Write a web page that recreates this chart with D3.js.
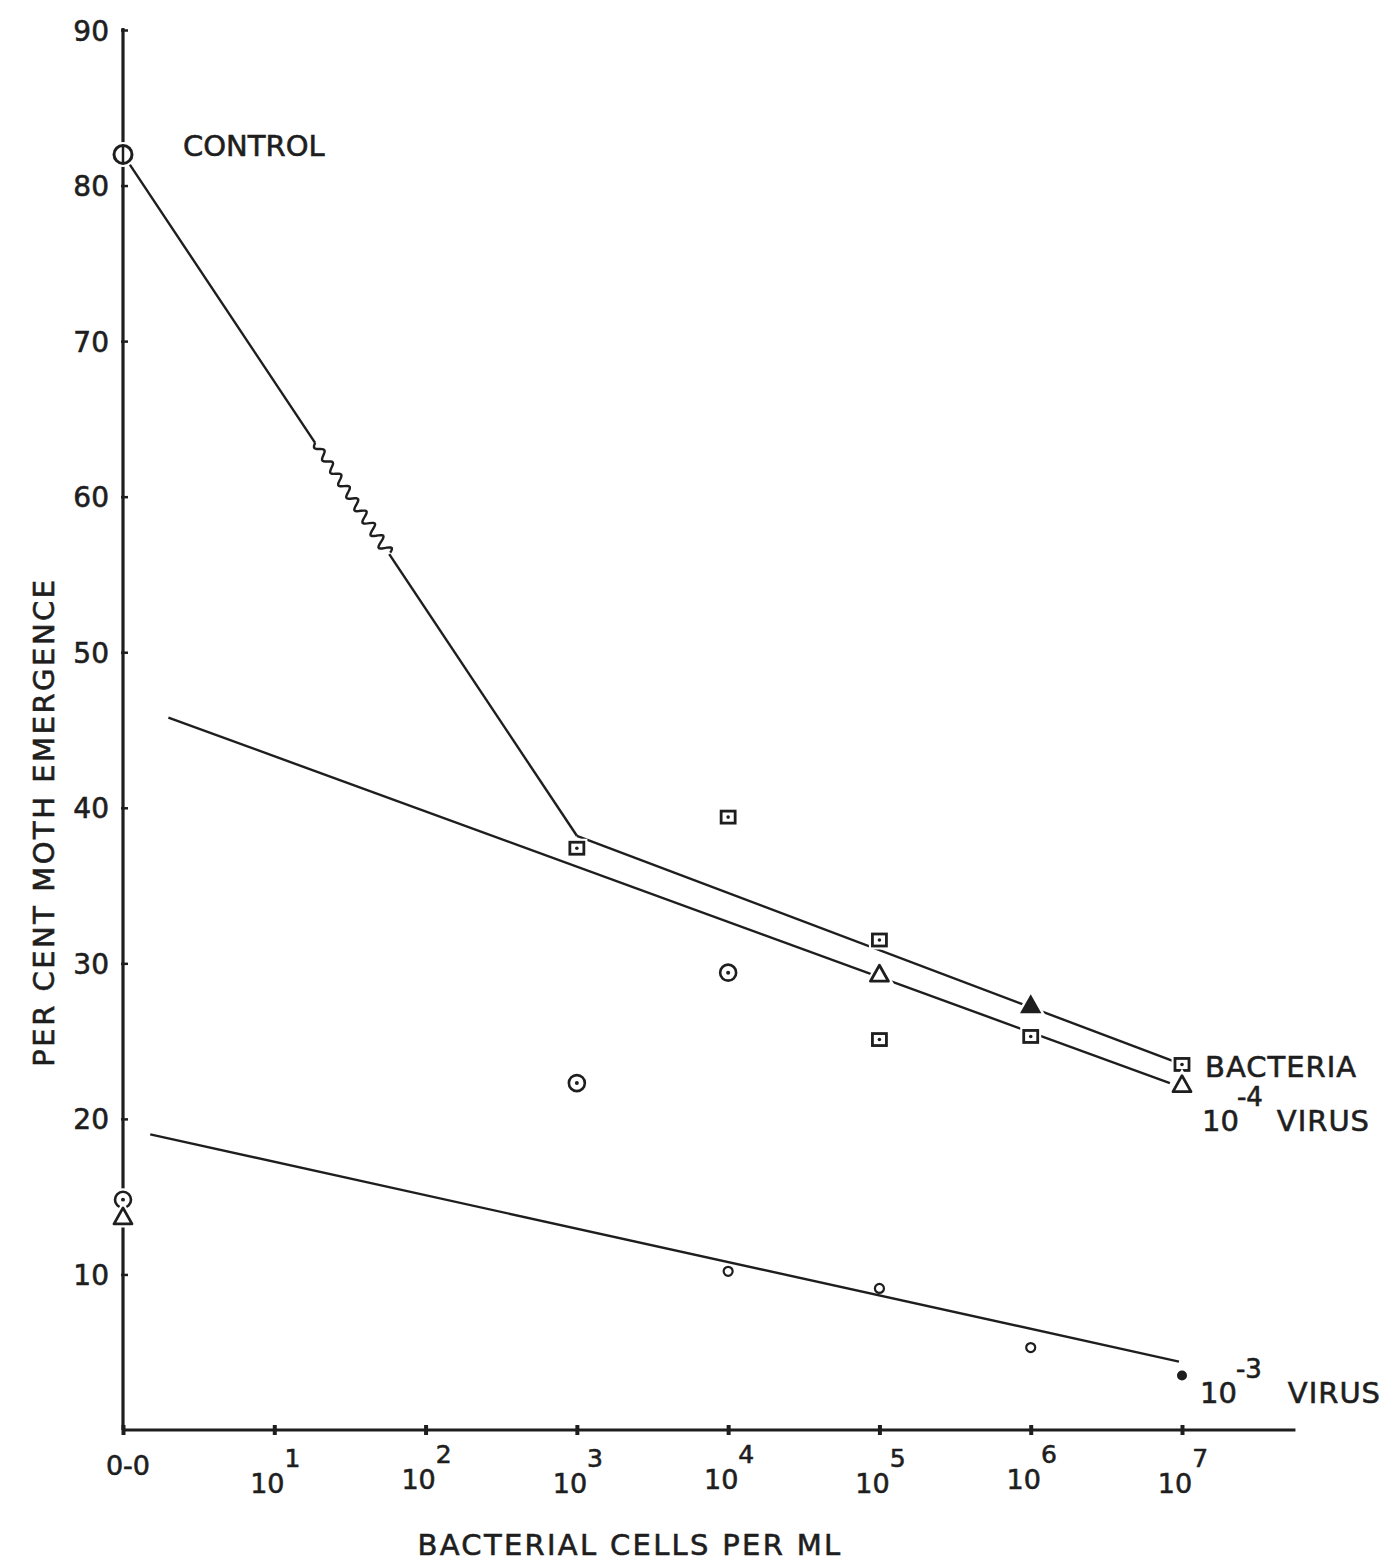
<!DOCTYPE html>
<html>
<head>
<meta charset="utf-8">
<script src="https://cdn.jsdelivr.net/npm/d3@7"></script>
<style>
  html, body { margin: 0; padding: 0; background: #fff; }
  svg { display: block; }
  text { font-family: "DejaVu Sans", "Liberation Sans", sans-serif; fill: #1e1e1e; stroke: #1e1e1e; stroke-width: 0.6px; }
</style>
</head>
<body>
<svg id="chart" width="1399" height="1563"></svg>
<script>
// Dose steps on the x axis (0 = untreated, k = 10^k cells per ml)
const doseSteps = [0, 1, 2, 3, 4, 5, 6, 7];
const doseExponents = ["", "1", "2", "3", "4", "5", "6", "7"];
const yTicks = [10, 20, 30, 40, 50, 60, 70, 80, 90];

// Fitted lines [dose step, % emergence]
const controlLine = [[0, 82], [3, 38.2]];
const bacteriaLine = [[3, 38.2], [7, 23.5]];
const virus4Line = [[0.3, 45.8], [6.92, 22.3]];
const virus3Line = [[0.18, 19.0], [6.98, 4.4]];

// Observed points
const controlPoints = [[0, 82]];
const dottedCirclePoints = [[3, 22.3], [4, 29.4], [0, 14.8]];
const squarePoints = [[3, 37.4], [4, 39.4], [5, 31.5], [6, 25.3], [7, 23.5], [5, 25.1]];
const openTrianglePoints = [[5, 29.3], [7, 22.2], [0, 13.7]];
const filledTrianglePoints = [[6, 27.3]];
const smallCirclePoints = [[4, 10.2], [5, 9.1], [6, 5.3]];
const smallFilledPoints = [[7, 3.5]];

const ink = "#1e1e1e";
const svg = d3.select("#chart");

const x = d3.scaleLinear().domain([0, 7]).range([123, 1182]);
const y = d3.scaleLinear().domain([0, 90]).range([1430, 30]);

// ---- axes ----
const yAxis = d3.axisLeft(y).tickValues(yTicks).tickSizeInner(-5).tickSizeOuter(0).tickPadding(14);
const gy = svg.append("g").attr("transform", `translate(${x(0)},0)`).call(yAxis);
gy.select(".domain").attr("stroke", ink).attr("stroke-width", 3.2).attr("d", `M0,${y(90) - 2}V${y(0)}`);
gy.selectAll(".tick line").attr("stroke", ink).attr("stroke-width", 2.5).attr("x1", -2);
gy.selectAll(".tick text").attr("font-size", 28).attr("fill", ink).attr("dy", "0.36em")
  .attr("font-family", "DejaVu Sans");

const xAxis = d3.axisBottom(x).tickValues(doseSteps).tickSizeInner(4).tickSizeOuter(0).tickFormat("");
const gx = svg.append("g").attr("transform", `translate(0,${y(0)})`).call(xAxis);
gx.select(".domain").attr("stroke", ink).attr("stroke-width", 3).attr("d", `M${x(0)},0H${x(7.75)}`);
gx.selectAll(".tick line").attr("stroke", ink).attr("stroke-width", 4).attr("y1", -5).attr("y2", 5);

// x tick labels: 0-0, then 10 with raised exponent
const xl = svg.append("g");
doseSteps.forEach((d, i) => {
  if (i === 0) {
    xl.append("text").attr("x", x(d) + 5).attr("y", y(0) + 45).attr("text-anchor", "middle")
      .attr("font-size", 27).text("0-0");
  } else {
    const t = xl.append("text").attr("x", x(d) + 1).attr("y", y(0) + 61 - (i % 2 ? -2 : 2))
      .attr("text-anchor", "middle").attr("font-size", 27);
    t.append("tspan").text("10");
    t.append("tspan").attr("dy", -26).attr("dx", 0).attr("font-size", 25).text(doseExponents[i]);
  }
});

// axis titles
svg.append("text").attr("x", 630).attr("y", 1555).attr("text-anchor", "middle")
  .attr("font-size", 29).attr("letter-spacing", 2.3).text("BACTERIAL CELLS PER ML");
svg.append("text").attr("transform", "translate(54,822) rotate(-90)").attr("text-anchor", "middle")
  .attr("font-size", 29).attr("letter-spacing", 2.5).text("PER CENT MOTH EMERGENCE");

// ---- lines ----
const line = d3.line().x(d => x(d[0])).y(d => y(d[1]));
const lines = svg.append("g").attr("fill", "none").attr("stroke", ink).attr("stroke-width", 2.4);
lines.append("path").attr("d", line(controlLine));
lines.append("path").attr("d", line(bacteriaLine));
lines.append("path").attr("d", line(virus4Line));
lines.append("path").attr("d", line(virus3Line));

// wavy stretch of the control line (pen tremor), built along the fitted segment
(function () {
  const [p0, p1] = controlLine;
  const a = [x(p0[0]), y(p0[1])], b = [x(p1[0]), y(p1[1])];
  const len = Math.hypot(b[0] - a[0], b[1] - a[1]);
  const ux = (b[0] - a[0]) / len, uy = (b[1] - a[1]) / len;
  const nx = -uy, ny = ux;
  const s0 = (x(1.27) - a[0]) / ux, s1 = (x(1.76) - a[0]) / ux;
  const pts = [];
  for (let s = s0; s <= s1; s += 1) {
    const f = (s - s0) / (s1 - s0);
    const w = Math.sin(f * Math.PI * 2 * 9) * (3.5 + 2 * f);
    pts.push([a[0] + ux * s + nx * w, a[1] + uy * s + ny * w]);
  }
  // white-out the straight part under the wave, then draw the wave
  svg.append("path").attr("d", `M${a[0] + ux * s0},${a[1] + uy * s0}L${a[0] + ux * s1},${a[1] + uy * s1}`)
    .attr("stroke", "#fff").attr("stroke-width", 4);
  svg.append("path").attr("d", d3.line()(pts)).attr("fill", "none").attr("stroke", ink).attr("stroke-width", 2.4);
})();

// ---- markers (each gets a white halo so lines break around it) ----
const marks = svg.append("g");
function halo(sel) { return sel.attr("stroke", "#fff").attr("stroke-width", 7).attr("fill", "#fff"); }
function drawSet(data, shape) {
  data.forEach(d => {
    const cx = x(d[0]), cy = y(d[1]);
    const g = marks.append("g").attr("transform", `translate(${cx},${cy})`);
    shape(g);
  });
}
const triPath = "M0,-9L9,7L-9,7Z";

drawSet(controlPoints, g => {
  halo(g.append("circle").attr("r", 9));
  g.append("circle").attr("r", 9).attr("fill", "#fff").attr("stroke", ink).attr("stroke-width", 3);
  g.append("line").attr("y1", -9).attr("y2", 9).attr("stroke", ink).attr("stroke-width", 2.5);
});
drawSet(dottedCirclePoints, g => {
  halo(g.append("circle").attr("r", 8));
  g.append("circle").attr("r", 8).attr("fill", "#fff").attr("stroke", ink).attr("stroke-width", 2.6);
  g.append("circle").attr("r", 2).attr("fill", ink);
});
drawSet(squarePoints, g => {
  halo(g.append("rect").attr("x", -7).attr("y", -6).attr("width", 14).attr("height", 12));
  g.append("rect").attr("x", -7).attr("y", -6).attr("width", 14).attr("height", 12)
    .attr("fill", "#fff").attr("stroke", ink).attr("stroke-width", 2.8);
  g.append("circle").attr("r", 1.8).attr("fill", ink);
});
drawSet(openTrianglePoints, g => {
  halo(g.append("path").attr("d", triPath));
  g.append("path").attr("d", triPath).attr("fill", "#fff").attr("stroke", ink).attr("stroke-width", 2.8)
    .attr("stroke-linejoin", "round");
});
drawSet(filledTrianglePoints, g => {
  halo(g.append("path").attr("d", triPath));
  g.append("path").attr("d", triPath).attr("fill", ink).attr("stroke", ink).attr("stroke-width", 2);
});
drawSet(smallCirclePoints, g => {
  g.append("circle").attr("r", 4.5).attr("fill", "#fff").attr("stroke", ink).attr("stroke-width", 2.2);
});
drawSet(smallFilledPoints, g => {
  g.append("circle").attr("r", 5).attr("fill", ink);
});

// ---- series labels ----
svg.append("text").attr("x", 183).attr("y", 156).attr("font-size", 29).text("CONTROL");
svg.append("text").attr("x", 1205).attr("y", 1077).attr("font-size", 29).attr("letter-spacing", 1).text("BACTERIA");

const v4 = svg.append("text").attr("x", 1202).attr("y", 1131).attr("font-size", 29);
v4.append("tspan").text("10");
v4.append("tspan").attr("dy", -25).attr("dx", -2).attr("font-size", 26).text("-4");
v4.append("tspan").attr("dy", 25).attr("dx", 14).attr("letter-spacing", 1).text("VIRUS");

const v3 = svg.append("text").attr("x", 1200).attr("y", 1403).attr("font-size", 29);
v3.append("tspan").text("10");
v3.append("tspan").attr("dy", -25).attr("dx", -1).attr("font-size", 26).text("-3");
v3.append("tspan").attr("dy", 25).attr("dx", 26).attr("letter-spacing", 1).text("VIRUS");
</script>
</body>
</html>
